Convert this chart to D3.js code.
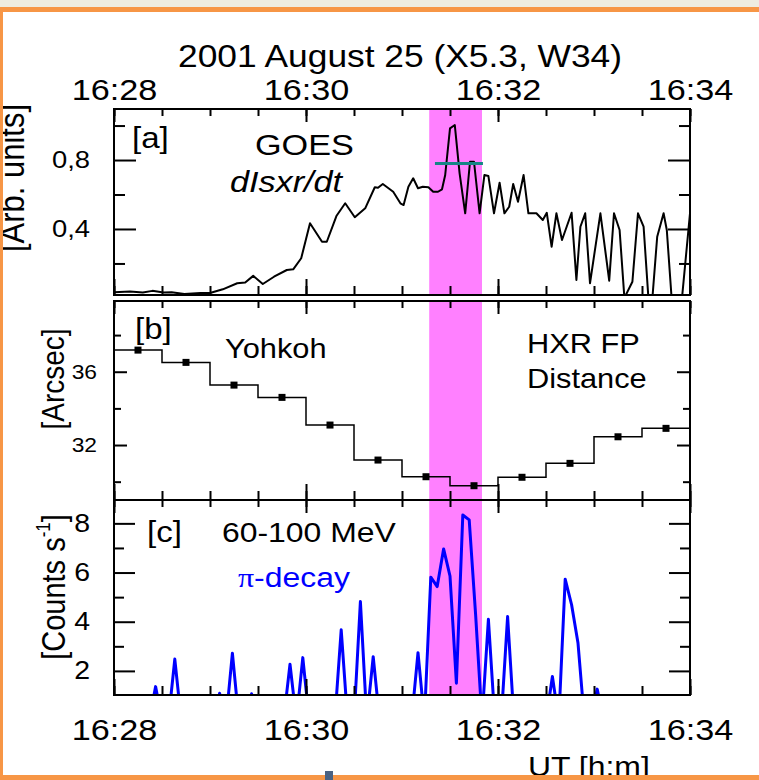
<!DOCTYPE html>
<html>
<head>
<meta charset="utf-8">
<script src="https://cdn.jsdelivr.net/npm/d3@7"></script>
<style>
  body { margin: 0; background: #fff; }
  text { font-family: "Liberation Sans", Arial, Helvetica, sans-serif; }
</style>
</head>
<body>
<div id="chart"></div>
<script>
// times are seconds after 16:28:00 UT
var goesTime = [0, 10, 18, 24, 31, 36, 44, 54, 60, 68, 77, 82, 87, 93, 100, 108, 112, 117, 122.5, 130,
  133, 139, 144.5, 150.5, 157, 163, 165, 168, 174.5, 179, 181, 184, 187, 190, 193, 196.5, 199.5, 202.5, 205, 207,
  210, 213, 216, 219.5, 222.5, 225, 228.5, 231.5, 234, 237.5, 241, 244, 247, 249.5, 252.5, 256, 259, 264, 268, 270.5,
  273.5, 276.5, 280, 286, 289, 291.5, 294.5, 297.5, 304, 309.5, 312.5, 316, 319, 324, 327.5, 331, 334, 336.5, 339.5, 343.5,
  345.5, 348.5, 355, 360];
var goesValue = [0.033, 0.037, 0.031, 0.041, 0.031, 0.033, 0.023, 0.029, 0.029, 0.05, 0.085, 0.089, 0.128, 0.081, 0.123, 0.162, 0.166, 0.23, 0.433, 0.326,
  0.326, 0.475, 0.549, 0.468, 0.52, 0.642, 0.639, 0.661, 0.616, 0.549, 0.539, 0.645, 0.694, 0.636, 0.645, 0.642, 0.616, 0.616, 0.63, 0.713,
  0.984, 1.003, 0.723, 0.491, 0.79, 0.79, 0.491, 0.713, 0.707, 0.491, 0.668, 0.491, 0.529, 0.661, 0.558, 0.713, 0.491, 0.491, 0.452, 0.494,
  0.297, 0.491, 0.336, 0.494, 0.104, 0.413, 0.491, 0.085, 0.491, 0.1, 0.491, 0.394, 0, 0.094, 0.491, 0.413, 0, 0, 0.355, 0.491,
  0.394, 0, 0, 0.491];
var goesLevel = 0.78, levelFrom = 200.6, levelTo = 230.6;
var bandFrom = 197, bandTo = 230;

var fpTime = [15, 45, 75, 105, 135, 165, 195, 225, 255, 285, 315, 345];
var fpDist = [37.18, 36.51, 35.27, 34.60, 33.09, 31.18, 30.27, 29.78, 30.24, 31.00, 32.45, 32.91];

var pionTime = d3.range(2, 360, 4);
var pionCounts = [0, 0, 0, 0, 0, 0, 1.36, 0, 0, 2.48,
  0, 0, 0, 0, 0, 0, 1.09, 0, 2.72, 0,
  0, 1.07, 0, 0, 0, 0, 0, 2.27, 0, 2.54,
  0, 0, 0, 0, 0, 3.67, 0, 0, 4.82, 0,
  2.58, 0, 0, 0, 0, 0, 0, 2.74, 0, 5.81,
  5.43, 6.96, 5.86, 1.50, 8.34, 8.14, 4.30, 0, 4.10, 0,
  0, 4.21, 0, 0, 0, 0, 0, 0, 1.77, 0,
  5.73, 4.69, 3.13, 0, 0, 1.26, 0, 0, 0, 0,
  0, 0, 0, 0, 0, 0, 0, 0, 0, 0];

var SX = 1.14; // the picture is a little wide

var svg = d3.select("#chart").append("svg").attr("width", 759).attr("height", 780);
var t0 = Date.UTC(2001, 7, 25, 16, 28);
function at(s) { return new Date(t0 + s * 1000); }

var left = 114, right = 690;
var x = d3.scaleUtc().domain([at(0), at(360)]).range([left, right]);
var minorT = x.ticks(d3.utcSecond.every(30)),
    majorT = x.ticks(d3.utcMinute.every(2)),
    hm = d3.utcFormat("%H:%M");
var comma = d3.formatLocale({decimal: ",", thousands: ".", grouping: [3], currency: ["", ""]}).format(".1f");

var pa = {top: 109, bottom: 295}, pb = {top: 301, bottom: 500}, pc = {top: 500, bottom: 695};
var ya = d3.scaleLinear().domain([0.017, 1.096]).range([pa.bottom, pa.top]);
var yb = d3.scaleLinear().domain([29.0, 39.86]).range([pb.bottom, pb.top]);
var yc = d3.scaleLinear().domain([1.02, 8.95]).range([pc.bottom, pc.top]);

function put(str, px, py, size, rot) {
  return svg.append("text")
    .attr("transform", "translate(" + px + "," + py + ") scale(" + SX + ",1)" + (rot ? " rotate(-90)" : ""))
    .attr("font-size", size)
    .text(str);
}
function widen(sel) {
  sel.each(function () {
    var t = d3.select(this), tx = +t.attr("x") || 0, ty = +t.attr("y") || 0;
    t.attr("x", 0).attr("y", 0).attr("transform", "translate(" + tx + "," + ty + ") scale(" + SX + ",1)");
  });
}

// magenta interval in each panel
[pa, pb, pc].forEach(function (p) {
  svg.append("rect")
    .attr("x", x(at(bandFrom))).attr("y", p.top)
    .attr("width", x(at(bandTo)) - x(at(bandFrom))).attr("height", p.bottom - p.top)
    .attr("fill", "#ff80ff");
});

var defs = svg.append("defs");
defs.append("clipPath").attr("id", "clipA").append("rect")
  .attr("x", left).attr("y", pa.top).attr("width", right - left).attr("height", pa.bottom - pa.top);
defs.append("clipPath").attr("id", "clipC").append("rect")
  .attr("x", left).attr("y", pc.top).attr("width", right - left).attr("height", pc.bottom - pc.top);

// [a] GOES derivative
svg.append("path")
  .datum(d3.zip(goesTime, goesValue))
  .attr("clip-path", "url(#clipA)")
  .attr("fill", "none").attr("stroke", "#000").attr("stroke-width", 2).attr("stroke-linejoin", "round")
  .attr("d", d3.line().x(function (d) { return x(at(d[0])); }).y(function (d) { return ya(d[1]); }));
svg.append("line")
  .attr("x1", x(at(levelFrom))).attr("x2", x(at(levelTo)))
  .attr("y1", ya(goesLevel)).attr("y2", ya(goesLevel))
  .attr("stroke", "#168585").attr("stroke-width", 3);

// [b] footpoint distance
var steps = fpTime.map(function (t, i) { return [t - 15, fpDist[i]]; });
steps.push([fpTime[fpTime.length - 1] + 15, fpDist[fpDist.length - 1]]);
svg.append("path")
  .datum(steps)
  .attr("fill", "none").attr("stroke", "#000").attr("stroke-width", 1.5)
  .attr("d", d3.line().x(function (d) { return x(at(d[0])); }).y(function (d) { return yb(d[1]); }).curve(d3.curveStepAfter));
svg.append("g").selectAll("rect")
  .data(d3.zip(fpTime, fpDist))
  .enter().append("rect")
  .attr("x", function (d) { return x(at(d[0])) - 3.5; })
  .attr("y", function (d) { return yb(d[1]) - 3.5; })
  .attr("width", 7).attr("height", 7).attr("fill", "#000");

// [c] pion decay
svg.append("path")
  .datum(d3.zip(pionTime, pionCounts))
  .attr("clip-path", "url(#clipC)")
  .attr("fill", "none").attr("stroke", "#0000ff").attr("stroke-width", 3).attr("stroke-linejoin", "round")
  .attr("d", d3.line().x(function (d) { return x(at(d[0])); }).y(function (d) { return yc(d[1]); }));

// ticks and boxes
function tickSet(axis, tr, vals, len) {
  svg.append("g").attr("transform", tr)
    .call(axis.tickValues(vals).tickSize(-len).tickFormat(""))
    .call(function (g) { g.select(".domain").remove(); })
    .selectAll("line").attr("stroke", "#000").attr("stroke-width", 2);
}
function frame(p, y, yMaj, yMin, yLong, yShort) {
  tickSet(d3.axisTop(x), "translate(0," + p.top + ")", minorT, 7);
  tickSet(d3.axisTop(x), "translate(0," + p.top + ")", majorT, 13);
  tickSet(d3.axisBottom(x), "translate(0," + p.bottom + ")", minorT, 9);
  tickSet(d3.axisBottom(x), "translate(0," + p.bottom + ")", majorT, 16);
  tickSet(d3.axisLeft(y), "translate(" + left + ",0)", yMin, yShort);
  tickSet(d3.axisLeft(y), "translate(" + left + ",0)", yMaj, yLong);
  tickSet(d3.axisRight(y), "translate(" + right + ",0)", yMin, yShort);
  tickSet(d3.axisRight(y), "translate(" + right + ",0)", yMaj, yLong);
  svg.append("rect")
    .attr("x", left).attr("y", p.top).attr("width", right - left).attr("height", p.bottom - p.top)
    .attr("fill", "none").attr("stroke", "#000").attr("stroke-width", 2);
}
frame(pa, ya, [0.4, 0.8], [0.2, 0.6, 1.0], 22, 11);
frame(pb, yb, [32, 36], [30, 34, 38], 13, 7);
frame(pc, yc, [2, 4, 6, 8], [3, 5, 7], 21, 10);

// tick labels
function labels(axis, tr, size) {
  svg.append("g").attr("transform", tr)
    .call(axis)
    .attr("font-size", size).attr("font-family", null)
    .call(function (g) { g.select(".domain").remove(); g.selectAll("line").remove(); })
    .selectAll("text").attr("fill", "#000").call(widen);
}
labels(d3.axisTop(x).tickValues(majorT).tickSize(0).tickPadding(9).tickFormat(hm), "translate(0," + pa.top + ")", 30);
labels(d3.axisBottom(x).tickValues(majorT).tickSize(0).tickPadding(24).tickFormat(hm), "translate(0," + pc.bottom + ")", 30);
labels(d3.axisLeft(ya).tickValues([0.4, 0.8]).tickSize(0).tickPadding(24).tickFormat(comma), "translate(" + left + ",0)", 24);
labels(d3.axisLeft(yb).tickValues([32, 36]).tickSize(0).tickPadding(17).tickFormat(d3.format("d")), "translate(" + left + ",0)", 20);
labels(d3.axisLeft(yc).tickValues([2, 4, 6, 8]).tickSize(0).tickPadding(24).tickFormat(d3.format("d")), "translate(" + left + ",0)", 25);

// titles and annotations
put("2001 August 25 (X5.3, W34)", 400, 67, 31).attr("text-anchor", "middle");
put("[a]", 132, 148, 29);
put("GOES", 255, 155, 30);
put("dIsxr/dt", 230, 192, 30).attr("font-style", "italic");
put("[b]", 135, 339, 29);
put("Yohkoh", 225, 358, 27);
put("HXR FP", 527, 353, 27);
put("Distance", 527, 388, 27);
put("[c]", 147, 542, 29);
put("60-100 MeV", 222, 542, 28);
var pi = put("", 238, 587, 28).style("fill", "#0000ff");
pi.append("tspan").style("font-family", "'Liberation Serif', 'DejaVu Serif', serif").text("\u03c0");
pi.append("tspan").text("-decay");
put("UT [h:m]", 528, 776, 28);

put("[Arb. units]", 24, 178, 31, true).attr("text-anchor", "middle");
put("[Arcsec]", 64, 379, 28, true).attr("text-anchor", "middle");
var cs = put("", 65, 587, 29, true).attr("text-anchor", "middle");
cs.append("tspan").text("[Counts s");
cs.append("tspan").attr("font-size", 17).attr("dy", -13).text("-1");
cs.append("tspan").attr("dy", 13).text("]");

// slide frame
svg.append("rect").attr("x", 0).attr("y", 0).attr("width", 759).attr("height", 7).attr("fill", "#eeece1");
svg.append("rect").attr("x", 0).attr("y", 7).attr("width", 759).attr("height", 5).attr("fill", "#f79646");
svg.append("rect").attr("x", 0).attr("y", 7).attr("width", 3).attr("height", 773).attr("fill", "#f79646");
svg.append("rect").attr("x", 0).attr("y", 775).attr("width", 759).attr("height", 5).attr("fill", "#f79646");
svg.append("rect").attr("x", 325).attr("y", 771).attr("width", 8).attr("height", 9).attr("fill", "#4a6283");
</script>
</body>
</html>
